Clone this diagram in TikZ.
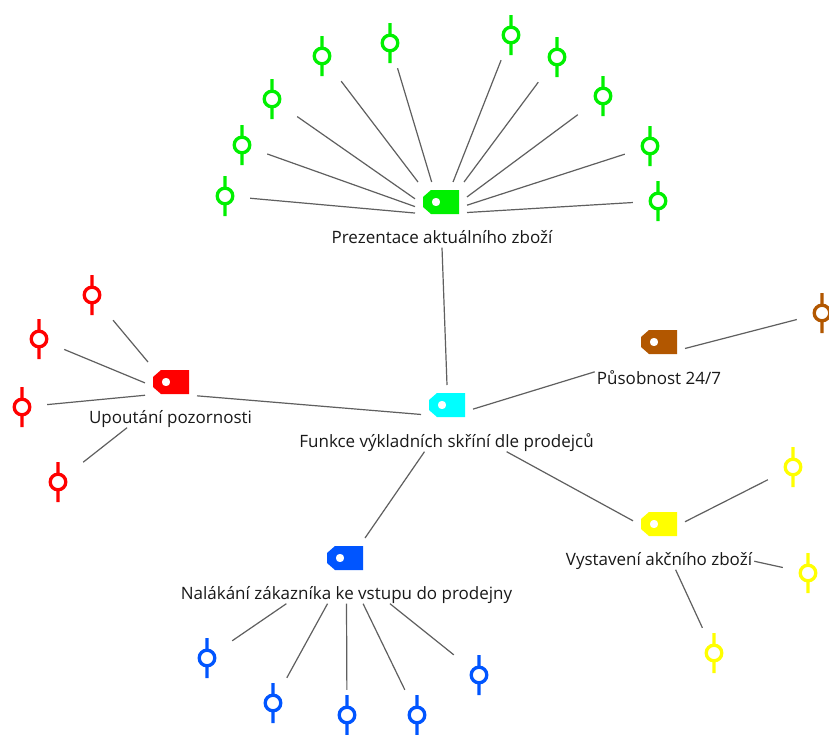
\documentclass[tikz,border=0pt]{standalone}
\usepackage{fontspec}
\setmainfont{Open Sans}
\definecolor{limeC}{RGB}{0,240,0}
\definecolor{cyanC}{RGB}{0,255,255}
\definecolor{redC}{RGB}{255,0,0}
\definecolor{yellowC}{RGB}{255,255,0}
\definecolor{blueC}{RGB}{0,85,255}
\definecolor{brownC}{RGB}{178,87,0}
\definecolor{inkC}{RGB}{25,25,25}
\definecolor{wireC}{RGB}{95,95,95}
\begin{document}
\begin{tikzpicture}[x=1pt, y=-1pt,
  tagbox/.style={minimum width=36pt, minimum height=24pt, inner sep=0pt, outer sep=8pt,
    path picture={\fill[#1, even odd rule, shift={(path picture bounding box.center)}]
      (-18,-5) -- (-10,-12) -- (18,-12) -- (18,12) -- (-10,12) -- (-18,5) -- cycle
      (-5,0) circle[radius=4.3pt];}},
  knob/.style={minimum size=50pt, inner sep=0pt,
    path picture={\draw[#1, line width=3.3pt, shift={(path picture bounding box.center)}]
      (0,-20) -- (0,-7.8) (0,7.8) -- (0,20) (0,0) circle[radius=7.8pt];}},
  lbl/.style={anchor=base, text=inkC, font=\fontsize{17}{20}\selectfont,
    inner xsep=2pt, inner ysep=1pt, text height=11pt, text depth=3.5pt},
  conn/.style={draw=wireC, line width=1.2pt}]
\useasboundingbox (0,0) rectangle (829,734);
\fill[white] (0,0) rectangle (829,734);

% main topic
\node[tagbox=cyanC] (C) at (447,405) {};
\node[lbl] (clbl) at (446.5,447) {Funkce výkladních skříní dle prodejců};

% branch: presentation of current goods
\node[tagbox=limeC] (G) at (441,202) {};
\node[lbl] (glbl) at (442,243) {Prezentace aktuálního zboží};
\foreach \n/\x/\y in {1/225/196, 2/242/145, 3/272/99, 4/322/56, 5/390/43,
                      6/511/35, 7/557/57, 8/603/96, 9/650/146, 10/658/201}
  \node[knob=limeC] (g\n) at (\x,\y) {};

% branch: attracting attention
\node[tagbox=redC] (R) at (171,382) {};
\node[lbl] (rlbl) at (170.5,423) {Upoutání pozornosti};
\foreach \n/\x/\y in {1/92/295, 2/39/339, 3/22/407, 4/58/482}
  \node[knob=redC] (r\n) at (\x,\y) {};

% branch: round-the-clock effect
\node[tagbox=brownC] (B) at (659,342) {};
\node[lbl] (blbl) at (659,384) {Působnost 24/7};
\node[knob=brownC] (bp) at (822,313) {};

% branch: sale goods
\node[tagbox=yellowC] (Y) at (659,524) {};
\node[lbl] (ylbl) at (659,565) {Vystavení akčního zboží};
\foreach \n/\x/\y in {1/793/467, 2/808/573, 3/714/653}
  \node[knob=yellowC] (y\n) at (\x,\y) {};

% branch: luring the customer in
\node[tagbox=blueC] (U) at (345,558) {};
\node[lbl] (ulbl) at (346.5,599) {Nalákání zákazníka ke vstupu do prodejny};
\foreach \n/\x/\y in {1/207/658, 2/273/703, 3/347/715, 4/417/715, 5/479/675}
  \node[knob=blueC] (u\n) at (\x,\y) {};

% connectors of the main topic
\draw[conn] (glbl.south) -- (C.north);
\draw[conn] (R.332) -- (C.200);
\draw[conn] (C.351) -- (blbl.north west);
\draw[conn] (clbl.201) -- (U.45);
\draw[conn] (clbl.352.5) -- (Y.173);

% leaves
\foreach \n/\a in {1/203, 2/190, 3/173, 4/139, 5/115, 6/59, 7/41, 8/11, 9/353, 10/338}
  \draw[conn] (g\n) -- (G.\a);
\draw[conn] (r1) -- (R.139);
\draw[conn] (r2) -- (R.182);
\draw[conn] (r3) -- (R.207);
\draw[conn] (r4) -- (rlbl.191);
\draw[conn] (B.346) -- (bp);
\draw[conn] (Y.5) -- (y1);
\draw[conn] (ylbl.east) -- (y2);
\draw[conn] (ylbl.333) -- (y3);
\draw[conn] (ulbl.188.8) -- (u1);
\draw[conn] (ulbl.204.6) -- (u2);
\draw[conn] (ulbl.south) -- (u3);
\draw[conn] (ulbl.333.4) -- (u4);
\draw[conn] (ulbl.349) -- (u5);
\end{tikzpicture}
\end{document}
